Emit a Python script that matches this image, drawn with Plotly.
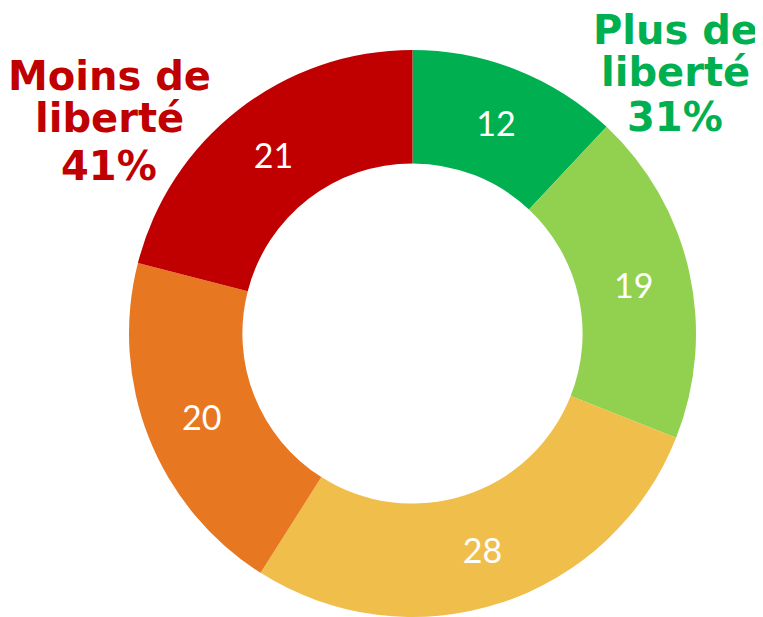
import plotly.graph_objects as go

categories = ["Beaucoup plus", "Un peu plus", "Autant", "Un peu moins", "Beaucoup moins"]
values = [12, 19, 28, 20, 21]
colors = ["#00B050", "#92D050", "#F0BE4A", "#E87722", "#C00000"]

left_lines = ["Moins de", "liberté", "41%"]
right_lines = ["Plus de", "liberté", "31%"]
left_color = "#C00000"
right_color = "#00B050"

fig = go.Figure(
    go.Pie(
        labels=categories,
        values=values,
        hole=0.6,
        sort=False,
        direction="clockwise",
        rotation=0,
        marker=dict(colors=colors, line=dict(width=0)),
        textinfo="value",
        textposition="inside",
        insidetextorientation="horizontal",
        textfont=dict(family="Lato", size=34, color="white"),
        domain=dict(x=[121.0 / 763, 688.0 / 763], y=[8.0 / 617, 575.0 / 617]),
        showlegend=False,
    )
)

# side labels, one annotation per line to keep the tight spacing
# (page has an 8px body margin, so positions are nudged up/left)
left_y = [68, 110, 158]
right_y = [22, 64, 109]
for txt, yy in zip(left_lines, left_y):
    fig.add_annotation(x=101 / 763, y=1 - yy / 617, xref="paper", yref="paper",
                       text=txt, showarrow=False, xanchor="center", yanchor="middle",
                       borderpad=0,
                       font=dict(family="DejaVu Sans", size=40, color=left_color, weight="bold"))
for txt, yy in zip(right_lines, right_y):
    fig.add_annotation(x=667 / 763, y=1 - yy / 617, xref="paper", yref="paper",
                       text=txt, showarrow=False, xanchor="center", yanchor="middle",
                       borderpad=0,
                       font=dict(family="DejaVu Sans", size=40, color=right_color, weight="bold"))

fig.update_layout(
    width=763,
    height=617,
    margin=dict(l=0, r=0, t=0, b=0),
    paper_bgcolor="white",
    plot_bgcolor="white",
)

fig.write_html("out.html")
